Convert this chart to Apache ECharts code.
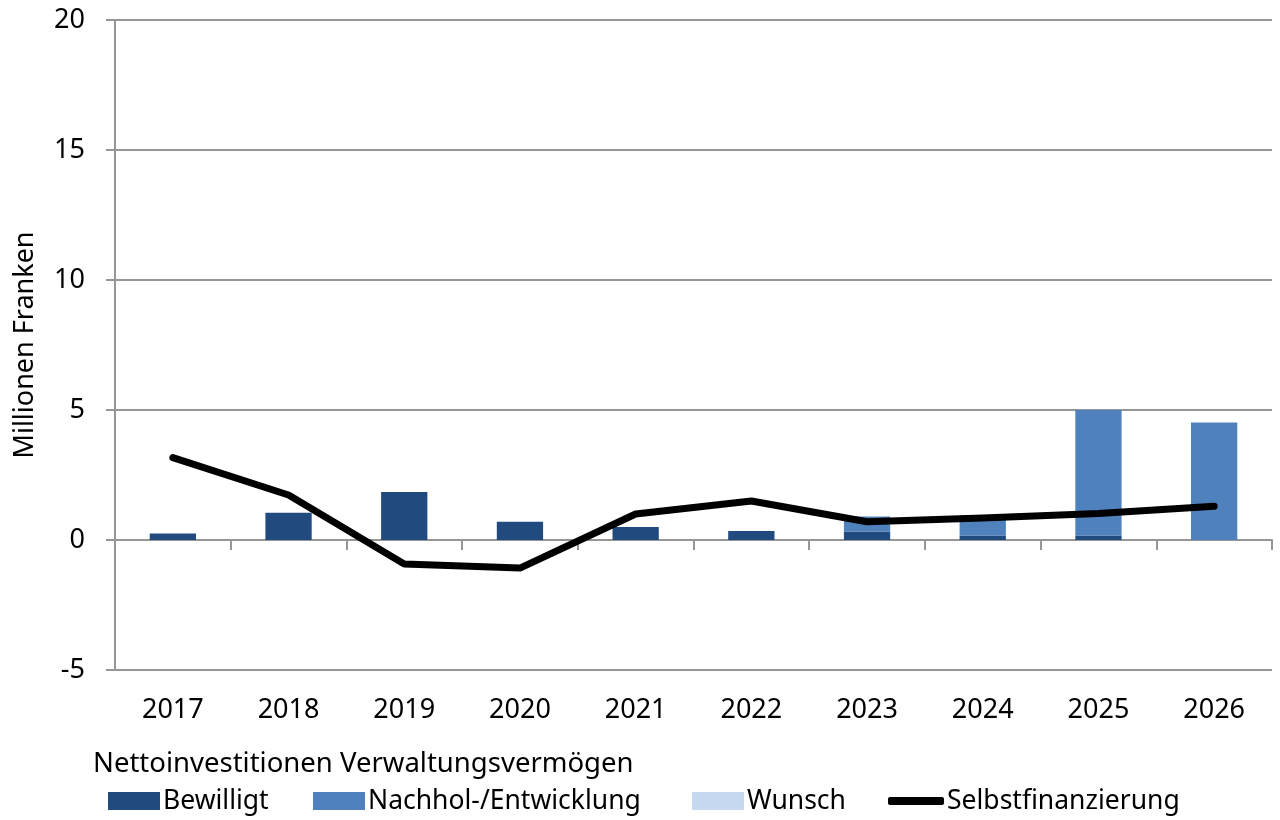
<!DOCTYPE html>
<html>
<head>
<meta charset="utf-8">
<script src="https://cdn.jsdelivr.net/npm/echarts@6/dist/echarts.min.js"></script>
<style>
  html, body { margin: 0; padding: 0; background: #fff; }
  #chart { width: 1280px; height: 820px; }
</style>
</head>
<body>
<div id="chart"></div>
<script>
var years = ['2017', '2018', '2019', '2020', '2021', '2022', '2023', '2024', '2025', '2026'];
var bewilligt = [0.25, 1.05, 1.85, 0.7, 0.5, 0.35, 0.33, 0.17, 0.17, 0];
var nachhol = [0, 0, 0, 0, 0, 0, 0.57, 0.78, 4.83, 4.52];
var wunsch = [0, 0, 0, 0, 0, 0, 0, 0, 0, 0];
var selbstfinanzierung = [3.17, 1.73, -0.92, -1.08, 1.0, 1.5, 0.7, 0.85, 1.02, 1.3];
var yTicks = [-5, 0, 5, 10, 15, 20];

var font = 'Noto Sans';
var grey = '#969696';

var myChart = echarts.init(document.getElementById('chart'));

// one legend per item so each can sit where the original puts it
function legendAt(name, left, icon, w, h) {
    return {
        left: left,
        top: 784,
        padding: 0,
        itemWidth: w,
        itemHeight: h,
        itemGap: 0,
        selectedMode: false,
        textStyle: { fontFamily: font, fontSize: 26.5, lineHeight: 34, color: '#000', padding: [0, 0, 0, -2] },
        data: [{ name: name, icon: icon }]
    };
}

var option = {
    animation: false,
    title: {
        text: 'Nettoinvestitionen Verwaltungsvermögen',
        left: 88,
        top: 745,
        textStyle: { fontFamily: font, fontSize: 27.5, fontWeight: 'normal', color: '#000' }
    },
    legend: [
        legendAt('Bewilligt', 108, 'rect', 52, 18),
        legendAt('Nachhol-/Entwicklung', 313, 'rect', 52, 18),
        legendAt('Wunsch', 692, 'rect', 52, 18),
        legendAt('Selbstfinanzierung', 888, 'roundRect', 56, 8)
    ],
    grid: { left: 115, right: 8, top: 20, bottom: 150, outerBoundsMode: 'none' },
    xAxis: [
        {
            type: 'category',
            data: years,
            boundaryGap: true,
            axisLine: { onZero: true, lineStyle: { color: grey, width: 2 } },
            axisTick: { show: true, interval: 0, length: 10, lineStyle: { color: grey, width: 2 } },
            axisLabel: { show: false },
            splitLine: { show: false }
        },
        {
            type: 'category',
            data: years,
            position: 'bottom',
            axisLine: { show: false, onZero: false },
            axisTick: { show: false },
            axisLabel: { margin: 27, fontFamily: font, fontSize: 27, color: '#000' },
            splitLine: { show: false }
        }
    ],
    yAxis: {
        type: 'value',
        min: yTicks[0],
        max: yTicks[yTicks.length - 1],
        interval: 5,
        name: 'Millionen Franken',
        nameLocation: 'middle',
        nameRotate: 90,
        nameGap: 76,
        nameTextStyle: { fontFamily: font, fontSize: 27, color: '#000' },
        axisLine: { show: true, lineStyle: { color: grey, width: 2 } },
        axisTick: { show: true, length: 9, lineStyle: { color: grey, width: 2 } },
        axisLabel: { margin: 30, fontFamily: font, fontSize: 27, color: '#000' },
        splitLine: { show: true, lineStyle: { color: grey, width: 2 } }
    },
    series: [
        {
            name: 'Bewilligt',
            type: 'bar',
            stack: 'inv',
            barWidth: '40%',
            itemStyle: { color: '#214a7e' },
            data: bewilligt
        },
        {
            name: 'Nachhol-/Entwicklung',
            type: 'bar',
            stack: 'inv',
            barWidth: '40%',
            itemStyle: { color: '#4f81bd' },
            data: nachhol
        },
        {
            name: 'Wunsch',
            type: 'bar',
            stack: 'inv',
            barWidth: '40%',
            itemStyle: { color: '#c6d9f1' },
            data: wunsch
        },
        {
            name: 'Selbstfinanzierung',
            type: 'line',
            symbol: 'none',
            lineStyle: { color: '#000', width: 7, cap: 'round', join: 'round' },
            itemStyle: { color: '#000' },
            data: selbstfinanzierung
        }
    ]
};

myChart.setOption(option);
window.addEventListener('resize', function () {
    myChart.resize();
});
</script>
</body>
</html>
